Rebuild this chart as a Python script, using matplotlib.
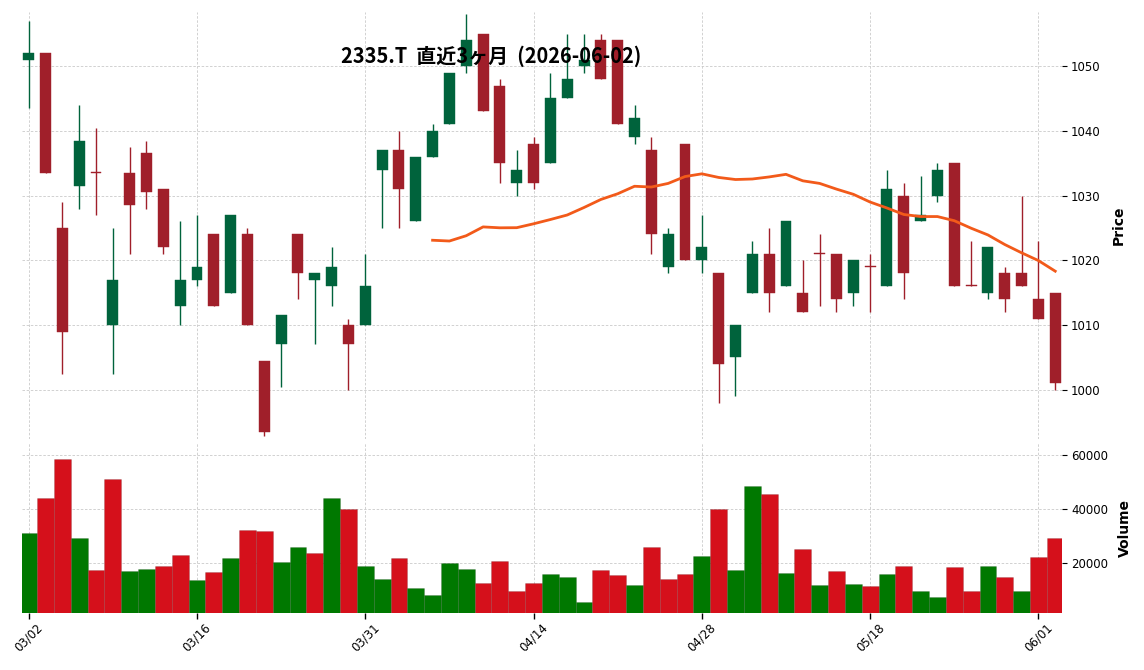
''' 2335.T candlestick chart, last 3 months, with volume panel '''
import matplotlib
matplotlib.use('Agg')
import matplotlib.pyplot as plt
import numpy as np
import pandas as pd

# trading days (TSE holidays excluded)
holidays = ['2026-03-20', '2026-04-29', '2026-05-04', '2026-05-05', '2026-05-06']
days = pd.bdate_range('2026-03-02', '2026-06-02')
days = days[~days.isin(pd.to_datetime(holidays))]

opens = [1051, 1052, 1025, 1031.5, 1033.5, 1010, 1033.5, 1036.5, 1031, 1013,
         1017, 1024, 1015, 1024, 1004.5, 1007, 1024, 1017, 1016, 1010,
         1010, 1034, 1037, 1026, 1036, 1041, 1050, 1055, 1047, 1032,
         1038, 1035, 1045, 1050, 1054, 1054, 1039, 1037, 1019, 1038,
         1020, 1018, 1005, 1015, 1021, 1016, 1015, 1021, 1021, 1015,
         1019, 1016, 1030, 1026, 1030, 1035, 1016, 1015, 1018, 1018,
         1014, 1015]
highs = [1057, 1052, 1029, 1044, 1040.5, 1025, 1037.5, 1038.5, 1031, 1026,
         1027, 1024, 1027, 1025, 1004.5, 1011.5, 1024, 1018, 1022, 1011,
         1021, 1037, 1040, 1036, 1041, 1049, 1058, 1055, 1048, 1037,
         1039, 1049, 1055, 1055, 1055, 1054, 1044, 1039, 1025, 1038,
         1027, 1018, 1010, 1023, 1025, 1026, 1020, 1024, 1021, 1020,
         1021, 1034, 1032, 1033, 1035, 1035, 1023, 1022, 1019, 1030,
         1023, 1015]
lows = [1043.5, 1033.5, 1002.5, 1028, 1027, 1002.5, 1021, 1028, 1021, 1010,
        1016, 1013, 1015, 1010, 992.8, 1000.5, 1014, 1007, 1013, 1000,
        1010, 1025, 1025, 1026, 1036, 1041, 1049, 1043, 1032, 1030,
        1031, 1035, 1045, 1049, 1048, 1041, 1038, 1021, 1018, 1020,
        1018, 998, 999, 1015, 1012, 1016, 1012, 1013, 1012, 1013,
        1012, 1016, 1014, 1026, 1029, 1016, 1016, 1014, 1012, 1016,
        1011, 1000]
closes = [1052, 1033.5, 1009, 1038.5, 1033.5, 1017, 1028.5, 1030.5, 1022, 1017,
          1019, 1013, 1027, 1010, 993.5, 1011.5, 1018, 1018, 1019, 1007,
          1016, 1037, 1031, 1036, 1040, 1049, 1054, 1043, 1035, 1034,
          1032, 1045, 1048, 1051, 1048, 1041, 1042, 1024, 1024, 1020,
          1022, 1004, 1010, 1021, 1015, 1026, 1012, 1021, 1014, 1020,
          1019, 1031, 1018, 1027, 1034, 1016, 1016, 1022, 1014, 1016,
          1011, 1001]
volumes = [31400, 44100, 58700, 29200, 17600, 51400, 17200, 17900, 19000, 23000,
           13900, 16800, 21900, 32500, 31800, 20500, 25900, 23800, 44100, 40100,
           19000, 14300, 21900, 11000, 8100, 20100, 17900, 12800, 20800, 9900,
           12800, 16100, 15000, 5600, 17600, 15800, 11800, 25900, 14300, 16100,
           22700, 40100, 17600, 48800, 45600, 16500, 25200, 11800, 17200, 12500,
           11400, 16100, 19000, 9600, 7400, 18700, 9600, 19000, 15000, 9600,
           22300, 29200]

UP_C, DOWN_C = '#00633c', '#a01f2a'
VUP_C, VDOWN_C = '#007800', '#d5101b'
MA_C = '#f25a1a'
GRID_C = '#cacaca'

o = np.array(opens); h = np.array(highs); l = np.array(lows); c = np.array(closes)
v = np.array(volumes)
x = np.arange(len(c))
ma25 = pd.Series(c).rolling(25).mean()

up = o < c
candle_col = np.where(up, UP_C, DOWN_C)
vol_up = np.concatenate([[up[0]], c[1:] > c[:-1]])
vol_col = np.where(vol_up, VUP_C, VDOWN_C)

fig = plt.figure(figsize=(11.44, 6.70), dpi=100)
ax = fig.add_axes([0.0192, 0.3448, 0.9091, 0.6377])
axv = fig.add_axes([0.0192, 0.0855, 0.9091, 0.2533], sharex=ax)

# candles
ax.vlines(x, l, h, colors=candle_col, linewidth=1.0, zorder=2)
body = np.maximum(np.abs(c - o), 0.15)
ax.bar(x, body, bottom=np.minimum(o, c), width=0.65, color=candle_col,
       edgecolor=candle_col, linewidth=0.3, zorder=3)
ax.plot(x, ma25, color=MA_C, linewidth=2.0, zorder=4)

# volume
axv.bar(x, v, width=1.0, color=vol_col, edgecolor='#00000022', linewidth=0.6, zorder=2)

ax.set_xlim(-0.4, len(c) - 0.6)
ax.set_ylim(l.min() - 0.4, h.max() + 0.4)
axv.set_ylim(0.3 * v.min(), 1.1 * v.max())

for a in (ax, axv):
    for s in a.spines.values():
        s.set_visible(False)
    a.grid(True, color=GRID_C, linestyle=(0, (3, 2)), linewidth=0.6, zorder=0)
    a.set_axisbelow(True)
    a.yaxis.tick_right()
    a.yaxis.set_label_position('right')
    a.tick_params(axis='y', direction='out', length=3.5, width=0.8, labelsize=8.5, pad=3)

ax.set_yticks([1000, 1010, 1020, 1030, 1040, 1050])
axv.set_yticks([20000, 40000, 60000])
ax.tick_params(axis='x', length=0, labelbottom=False)

tick_pos = list(range(0, len(c), 10))
axv.set_xticks(tick_pos)
axv.set_xticklabels([days[i].strftime('%m/%d') for i in tick_pos], rotation=45, ha='center')
axv.tick_params(axis='x', direction='out', length=4, width=1.0, labelsize=8.5, pad=2)

ax.set_ylabel('Price', fontsize=10, fontweight='bold', labelpad=8)
axv.set_ylabel('Volume', fontsize=10, fontweight='bold', labelpad=7)

fig.text(0.429, 0.916, '2335.T  直近3ヶ月  (2026-06-02)', ha='center', va='center',
         fontsize=14.4, fontweight='bold', family=['Noto Sans CJK JP', 'DejaVu Sans'])

fig.savefig('out.png', dpi=100)
